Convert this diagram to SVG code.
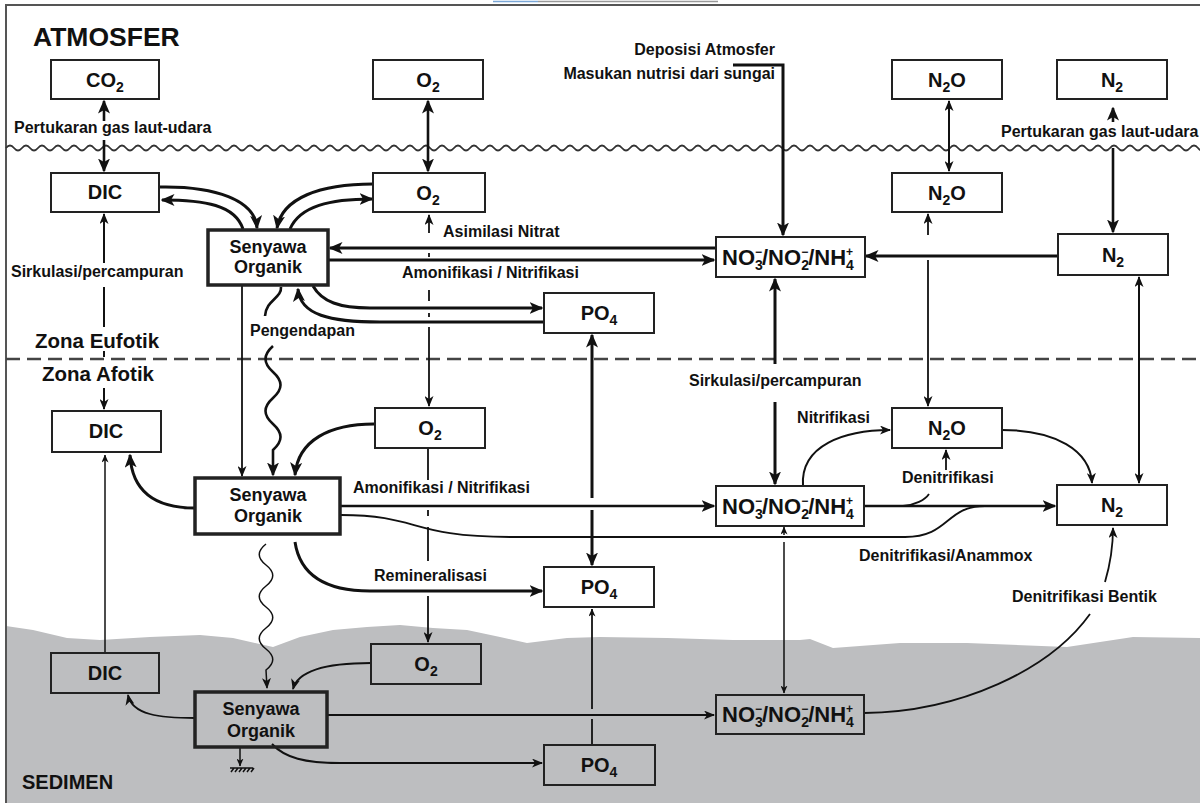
<svg xmlns="http://www.w3.org/2000/svg" width="1200" height="803" viewBox="0 0 1200 803">
<style>
.bx{fill:#fff;stroke:#222;stroke-width:2}
.bs{fill:none;stroke:#222;stroke-width:2}
.bt{stroke-width:3.5}
text{font-family:"Liberation Sans",Arial,sans-serif;font-weight:bold;fill:#111}
.lb{font-size:16px}
.nl{font-size:20px;text-anchor:middle}
.so{font-size:18px;text-anchor:middle}
.nx{font-size:22px}
.sb{font-size:14px}
.sp{font-size:12px}
.c{fill:none;stroke:#111}
.w3{stroke-width:3}
.w25{stroke-width:2.6}
.w2{stroke-width:2}
.w18{stroke-width:1.8}
.w15{stroke-width:1.5}
</style>
<defs>
<marker id="aL" markerUnits="userSpaceOnUse" markerWidth="14" markerHeight="12" viewBox="0 0 14 12" refX="12.5" refY="6" orient="auto-start-reverse"><path d="M0,0 L14,6 L0,12 L3.5,6 Z" fill="#111"/></marker>
<marker id="aM" markerUnits="userSpaceOnUse" markerWidth="11" markerHeight="9" viewBox="0 0 11 9" refX="10" refY="4.5" orient="auto-start-reverse"><path d="M0,0 L11,4.5 L0,9 L3,4.5 Z" fill="#111"/></marker>
<marker id="aS" markerUnits="userSpaceOnUse" markerWidth="8" markerHeight="7" viewBox="0 0 8 7" refX="7.5" refY="3.5" orient="auto-start-reverse"><path d="M0,0 L8,3.5 L0,7 L2.2,3.5 Z" fill="#111"/></marker>
</defs>

<rect x="0" y="0" width="1200" height="803" fill="#fff"/>
<g id="background">
<path d="M6,626 L33,630 L67,638 L100,640 L150,637 L200,635 L233,638 L273,647 L300,637 L333,630 L367,627 L400,625 L433,628 L467,630 L500,637 L527,643 L567,638 L600,637 L667,638 L733,640 L800,640 L810,639 L833,648 L900,643 L967,643 L1067,647 L1133,637 L1200,638 L1200,803 L6,803 Z" fill="#bdbec0"/>
<path d="M6,803 L6,5 L1200,5" fill="none" stroke="#555" stroke-width="2"/>
<line x1="493" y1="1.5" x2="538" y2="1.5" stroke="#7aa6d6" stroke-width="1.5"/>
<line x1="538" y1="1.5" x2="718" y2="1.5" stroke="#999" stroke-width="1.5"/>
<path d="M6,148 q4,-5 8,0 t8,0 t8,0 t8,0 t8,0 t8,0 t8,0 t8,0 t8,0 t8,0 t8,0
t8,0 t8,0 t8,0 t8,0 t8,0 t8,0 t8,0 t8,0 t8,0 t8,0
t8,0 t8,0 t8,0 t8,0 t8,0 t8,0 t8,0 t8,0 t8,0 t8,0
t8,0 t8,0 t8,0 t8,0 t8,0 t8,0 t8,0 t8,0 t8,0 t8,0
t8,0 t8,0 t8,0 t8,0 t8,0 t8,0 t8,0 t8,0 t8,0 t8,0
t8,0 t8,0 t8,0 t8,0 t8,0 t8,0 t8,0 t8,0 t8,0 t8,0
t8,0 t8,0 t8,0 t8,0 t8,0 t8,0 t8,0 t8,0 t8,0 t8,0
t8,0 t8,0 t8,0 t8,0 t8,0 t8,0 t8,0 t8,0 t8,0 t8,0
t8,0 t8,0 t8,0 t8,0 t8,0 t8,0 t8,0 t8,0 t8,0 t8,0
t8,0 t8,0 t8,0 t8,0 t8,0 t8,0 t8,0 t8,0 t8,0 t8,0
t8,0 t8,0 t8,0 t8,0 t8,0 t8,0 t8,0 t8,0 t8,0 t8,0
t8,0 t8,0 t8,0 t8,0 t8,0 t8,0 t8,0 t8,0 t8,0 t8,0
t8,0 t8,0 t8,0 t8,0 t8,0 t8,0 t8,0 t8,0 t8,0 t8,0
t8,0 t8,0 t8,0 t8,0 t8,0 t8,0 t8,0 t8,0 t8,0 t8,0
t8,0 t8,0 t8,0 t8,0 t8,0 t8,0 t8,0 t8,0 t8,0 t8,0" fill="none" stroke="#333" stroke-width="1.8"/>
<line x1="6" y1="359" x2="1200" y2="359" stroke="#444" stroke-width="2.5" stroke-dasharray="14 7"/>
<text x="33" y="46" style="font-size:26.5px">ATMOSFER</text>
<text x="35" y="348" style="font-size:20.5px">Zona Eufotik</text>
<text x="42" y="381" style="font-size:20.5px">Zona Afotik</text>
<text x="22" y="789" style="font-size:20px">SEDIMEN</text>
</g>

<g id="connectors">
<!-- atmosphere exchanges -->
<path class="c w25" d="M104,121 L104,101" marker-end="url(#aL)"/>
<path class="c w25" d="M104,140 L104,171" marker-end="url(#aL)"/>
<path class="c w25" d="M428,101 L428,171" marker-start="url(#aL)" marker-end="url(#aL)"/>
<path class="c w2" d="M949,101 L949,171" marker-start="url(#aM)" marker-end="url(#aM)"/>
<path class="c w25" d="M1113,122 L1113,108" marker-end="url(#aL)"/>
<path class="c w25" d="M1113,148 L1113,232" marker-end="url(#aL)"/>
<path class="c w3" d="M733,65 L783,65 L783,235" marker-end="url(#aL)"/>
<!-- euphotic organic -->
<path class="c w3" d="M160,187 C215,186 255,200 257,228" marker-end="url(#aL)"/>
<path class="c w3" d="M243,229 C235,205 205,200 162,200" marker-end="url(#aL)"/>
<path class="c w3" d="M373,184 C320,184 282,198 277,228" marker-end="url(#aL)"/>
<path class="c w3" d="M290,229 C300,206 330,199 372,199" marker-end="url(#aL)"/>
<path class="c w3" d="M716,248 L330,248" marker-end="url(#aL)"/>
<path class="c w3" d="M328,260 L714,260" marker-end="url(#aL)"/>
<path class="c w3" d="M1058,256 L866,256" marker-end="url(#aL)"/>
<path class="c w3" d="M313,286 C322,302 340,308 370,308 L542,308" marker-end="url(#aL)"/>
<path class="c w3" d="M544,322 L380,322 C330,322 300,315 298,289" marker-end="url(#aL)"/>
<!-- O2 dashed vertical -->
<path class="c w18" d="M429,233 L429,215" marker-end="url(#aM)"/>
<path class="c w18" d="M429,253 L429,257 M429,290 L429,301 M429,313 L429,317"/>
<path class="c w18" d="M429,327 L429,406" marker-end="url(#aM)"/>
<path class="c w18" d="M428,449 L428,480 M428,510 L428,516 M428,527 L428,561"/>
<path class="c w18" d="M428,596 L428,642" marker-end="url(#aM)"/>
<!-- left circulation -->
<path class="c w2" d="M104,263 L104,214" marker-end="url(#aM)"/>
<path class="c w2" d="M104,287 L104,327 M104,351 L104,357"/>
<path class="c w2" d="M104,388 L104,409" marker-end="url(#aM)"/>
<!-- settling -->
<path class="c w18" d="M242,286 L242,476" marker-end="url(#aM)"/>
<path class="c w25" d="M281,287 C282,298 266,300 265,316"/>
<path class="c w25" d="M273,346 c-10,9 -10,17 0,26 s10,17 0,26 s-10,17 0,26 s10,17 0,26 L273,475" marker-end="url(#aL)"/>
<!-- aphotic organic -->
<path class="c w3" d="M374,424 C330,424 298,440 295,475" marker-end="url(#aL)"/>
<path class="c w3" d="M195,508 C155,508 132,492 130,455" marker-end="url(#aL)"/>
<path class="c w25" d="M341,506 L714,506" marker-end="url(#aL)"/>
<path class="c w18" d="M341,515 C420,515 410,537 510,537 L905,537 C950,537 945,506 985,506"/>
<path class="c w3" d="M295,542 C300,575 325,591 370,591 L542,591" marker-end="url(#aL)"/>
<path class="c w25" d="M864,506 L1055,506" marker-end="url(#aL)"/>
<path class="c w18" d="M903,506 C915,505 925,500 929,494"/>
<path class="c w18" d="M946,470 L946,450" marker-end="url(#aM)"/>
<path class="c w2" d="M803,486 C800,445 845,430 890,430" marker-end="url(#aM)"/>
<path class="c w2" d="M1002,430 C1055,430 1090,450 1092,483" marker-end="url(#aM)"/>
<path class="c w2" d="M1139,277 L1139,483" marker-start="url(#aM)" marker-end="url(#aM)"/>
<path class="c w18" d="M928,235 L928,214" marker-end="url(#aM)"/>
<path class="c w18" d="M928,260 L928,406" marker-end="url(#aM)"/>
<path class="c w3" d="M775,364 L775,279" marker-end="url(#aL)"/>
<path class="c w3" d="M775,402 L775,484" marker-end="url(#aL)"/>
<path class="c w3" d="M592,498 L592,335" marker-end="url(#aL)"/>
<path class="c w3" d="M592,510 L592,565" marker-end="url(#aL)"/>
<!-- sediment -->
<path class="c w15" d="M105,653 L105,455" marker-end="url(#aS)"/>
<path class="c w15" d="M266,544 c-9,7 -9,14 0,21 s9,14 0,21 s-9,14 0,21 s9,14 0,21 s-9,14 0,21 s9,14 0,21 L267,688" marker-end="url(#aM)"/>
<path class="c w18" d="M371,663 C330,663 298,670 293,689" marker-end="url(#aM)"/>
<path class="c w18" d="M195,718 C160,718 132,715 128,695" marker-end="url(#aM)"/>
<path class="c w2" d="M328,715 L714,715" marker-end="url(#aM)"/>
<path class="c w2" d="M272,744 C285,758 305,763 340,763 L542,763" marker-end="url(#aM)"/>
<path class="c w18" d="M592,745 L592,719" />
<path class="c w18" d="M592,709 L592,609" marker-end="url(#aS)"/>
<path class="c w15" d="M784,535 L784,527" marker-end="url(#aS)"/>
<path class="c w15" d="M784,542 L784,693" marker-end="url(#aS)"/>
<path class="c w18" d="M864,713 C960,712 1050,670 1090,614"/>
<path class="c w18" d="M1105,582 C1110,565 1113,550 1113,528" marker-end="url(#aM)"/>
<path class="c w15" d="M240,748 L240,766" marker-end="url(#aS)"/>
<path class="c w15" d="M230,768 L253,768 M234,768 l-3,4 M238,768 l-3,4 M242,768 l-3,4 M246,768 l-3,4 M250,768 l-3,4 M254,768 l-3,4"/>
<!-- labels -->
<text class="lb" x="14" y="133">Pertukaran gas laut-udara</text>
<text class="lb" x="1001" y="137">Pertukaran gas laut-udara</text>
<text class="lb" x="775" y="55" text-anchor="end">Deposisi Atmosfer</text>
<text class="lb" x="775" y="79" text-anchor="end">Masukan nutrisi dari sungai</text>
<text class="lb" x="443" y="237">Asimilasi Nitrat</text>
<text class="lb" x="402" y="278">Amonifikasi / Nitrifikasi</text>
<text class="lb" x="11" y="277">Sirkulasi/percampuran</text>
<text class="lb" x="250" y="336">Pengendapan</text>
<text class="lb" x="689" y="386">Sirkulasi/percampuran</text>
<text class="lb" x="870" y="423" text-anchor="end">Nitrifikasi</text>
<text class="lb" x="902" y="483">Denitrifikasi</text>
<text class="lb" x="353" y="493">Amonifikasi / Nitrifikasi</text>
<text class="lb" x="859" y="561">Denitrifikasi/Anammox</text>
<text class="lb" x="374" y="581">Remineralisasi</text>
<text class="lb" x="1012" y="602">Denitrifikasi Bentik</text>
</g>

<g id="n-co2-atm"><rect class="bx" x="51" y="60" width="108" height="39"/><text class="nl" x="105" y="87">CO<tspan class="sb" dy="5">2</tspan></text></g>
<g id="n-o2-atm"><rect class="bx" x="373" y="60" width="110" height="39"/><text class="nl" x="428" y="87">O<tspan class="sb" dy="5">2</tspan></text></g>
<g id="n-n2o-atm"><rect class="bx" x="892" y="60" width="110" height="39"/><text class="nl" x="947" y="87">N<tspan class="sb" dy="5">2</tspan><tspan dy="-5">O</tspan></text></g>
<g id="n-n2-atm"><rect class="bx" x="1057" y="60" width="110" height="39"/><text class="nl" x="1112" y="87">N<tspan class="sb" dy="5">2</tspan></text></g>

<g id="n-dic-eu"><rect class="bx" x="51" y="173" width="108" height="39"/><text class="nl" x="105" y="199">DIC</text></g>
<g id="n-o2-eu"><rect class="bx" x="373" y="173" width="112" height="39"/><text class="nl" x="428" y="200">O<tspan class="sb" dy="5">2</tspan></text></g>
<g id="n-n2o-eu"><rect class="bx" x="892" y="173" width="110" height="39"/><text class="nl" x="947" y="200">N<tspan class="sb" dy="5">2</tspan><tspan dy="-5">O</tspan></text></g>
<g id="n-n2-eu"><rect class="bx" x="1058" y="234" width="110" height="41"/><text class="nl" x="1113" y="262">N<tspan class="sb" dy="5">2</tspan></text></g>
<g id="n-org-eu"><rect class="bx bt" x="208" y="230" width="120" height="55"/><text class="so" x="268" y="253">Senyawa</text><text class="so" x="268" y="273">Organik</text></g>
<g id="n-nut-eu"><rect class="bx" x="716" y="237" width="149" height="40"/><text class="nx" x="722" y="265">NO<tspan class="sb" dy="5">3</tspan><tspan class="sp" dx="-7.8" dy="-14">−</tspan><tspan dy="9">/NO</tspan><tspan class="sb" dy="5">2</tspan><tspan class="sp" dx="-7.8" dy="-14">−</tspan><tspan dy="9">/NH</tspan><tspan class="sb" dy="5">4</tspan><tspan class="sp" dx="-7.8" dy="-14">+</tspan></text></g>
<g id="n-po4-eu"><rect class="bx" x="544" y="293" width="110" height="40"/><text class="nl" x="599" y="320">PO<tspan class="sb" dy="5">4</tspan></text></g>

<g id="n-dic-af"><rect class="bx" x="52" y="411" width="109" height="41"/><text class="nl" x="106" y="438">DIC</text></g>
<g id="n-o2-af"><rect class="bx" x="375" y="408" width="110" height="40"/><text class="nl" x="430" y="435">O<tspan class="sb" dy="5">2</tspan></text></g>
<g id="n-n2o-af"><rect class="bx" x="892" y="408" width="110" height="40"/><text class="nl" x="947" y="435">N<tspan class="sb" dy="5">2</tspan><tspan dy="-5">O</tspan></text></g>
<g id="n-org-af"><rect class="bx bt" x="195" y="478" width="145" height="56"/><text class="so" x="268" y="501">Senyawa</text><text class="so" x="268" y="522">Organik</text></g>
<g id="n-nut-af"><rect class="bx" x="716" y="486" width="148" height="40"/><text class="nx" x="722" y="514">NO<tspan class="sb" dy="5">3</tspan><tspan class="sp" dx="-7.8" dy="-14">−</tspan><tspan dy="9">/NO</tspan><tspan class="sb" dy="5">2</tspan><tspan class="sp" dx="-7.8" dy="-14">−</tspan><tspan dy="9">/NH</tspan><tspan class="sb" dy="5">4</tspan><tspan class="sp" dx="-7.8" dy="-14">+</tspan></text></g>
<g id="n-n2-af"><rect class="bx" x="1057" y="485" width="110" height="40"/><text class="nl" x="1112" y="512">N<tspan class="sb" dy="5">2</tspan></text></g>
<g id="n-po4-af"><rect class="bx" x="544" y="567" width="110" height="40"/><text class="nl" x="599" y="594">PO<tspan class="sb" dy="5">4</tspan></text></g>

<g id="n-dic-sed"><rect class="bs" x="51" y="653" width="108" height="40"/><text class="nl" x="105" y="680">DIC</text></g>
<g id="n-org-sed"><rect class="bs bt" x="195" y="692" width="132" height="55"/><text class="so" x="261" y="715">Senyawa</text><text class="so" x="261" y="737">Organik</text></g>
<g id="n-o2-sed"><rect class="bs" x="371" y="644" width="110" height="40"/><text class="nl" x="426" y="671">O<tspan class="sb" dy="5">2</tspan></text></g>
<g id="n-nut-sed"><rect class="bs" x="716" y="695" width="148" height="39"/><text class="nx" x="722" y="722">NO<tspan class="sb" dy="5">3</tspan><tspan class="sp" dx="-7.8" dy="-14">−</tspan><tspan dy="9">/NO</tspan><tspan class="sb" dy="5">2</tspan><tspan class="sp" dx="-7.8" dy="-14">−</tspan><tspan dy="9">/NH</tspan><tspan class="sb" dy="5">4</tspan><tspan class="sp" dx="-7.8" dy="-14">+</tspan></text></g>
<g id="n-po4-sed"><rect class="bs" x="544" y="745" width="111" height="40"/><text class="nl" x="599" y="772">PO<tspan class="sb" dy="5">4</tspan></text></g>
</svg>
